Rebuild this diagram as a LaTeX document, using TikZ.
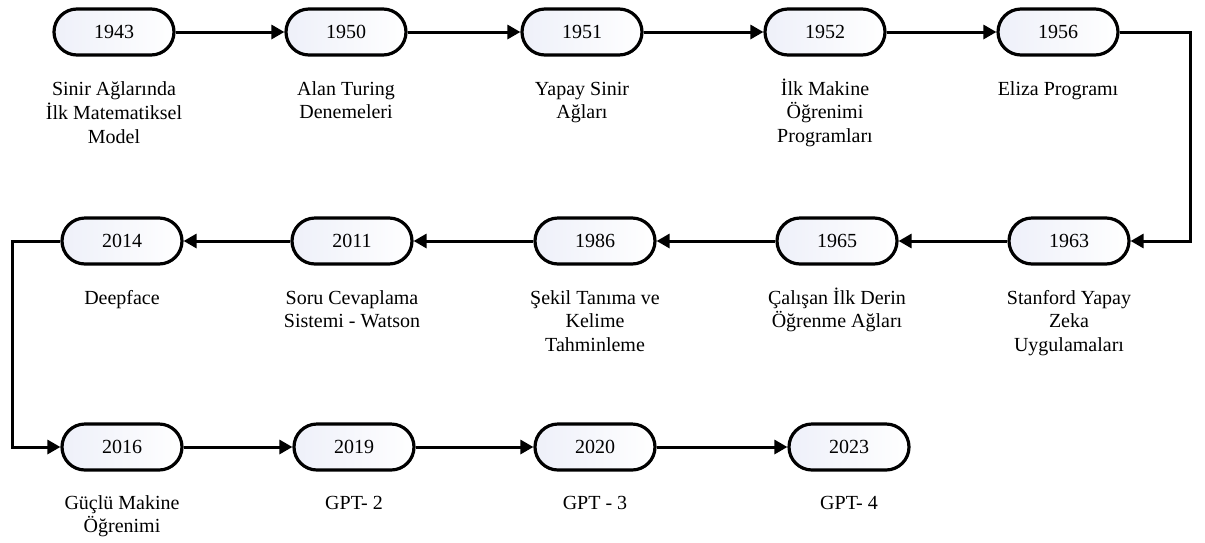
\documentclass[tikz,border=0pt]{standalone}
\usepackage{fontspec}
\setmainfont{Liberation Serif}
\usetikzlibrary{arrows.meta,shapes.misc}
\definecolor{yearfill}{RGB}{238,240,249}
\newcommand{\captext}{\fontsize{20}{23.5}\selectfont}
\begin{document}
\begin{tikzpicture}[x=1pt,y=-1pt,
  year/.style={rounded rectangle, draw=black, line width=3.2pt,
    minimum width=120pt, minimum height=46pt, inner sep=0pt,
    left color=yearfill, right color=white, font=\captext},
  caption/.style={anchor=north, align=center, inner sep=0pt, font=\captext},
  link/.style={line width=3pt, -{Triangle[length=13pt,width=14pt]}}]
\useasboundingbox (0,0) rectangle (1205,542);

% first row
\node[year] (n1943) at (114,32) {1943};
\node[year] (n1950) at (346,32) {1950};
\node[year] (n1951) at (582,32) {1951};
\node[year] (n1952) at (825,32) {1952};
\node[year] (n1956) at (1058,32) {1956};
% second row
\node[year] (n1963) at (1069,241) {1963};
\node[year] (n1965) at (837,241) {1965};
\node[year] (n1986) at (595,241) {1986};
\node[year] (n2011) at (352,241) {2011};
\node[year] (n2014) at (122,241) {2014};
% third row
\node[year] (n2016) at (122,447) {2016};
\node[year] (n2019) at (354,447) {2019};
\node[year] (n2020) at (595,447) {2020};
\node[year] (n2023) at (849,447) {2023};

% captions (each first line starts with a strut so all rows share one baseline)
\node[caption] (c1943) at (114,78.5) {\strut Sinir Ağlarında\\İlk Matematiksel\\Model};
\node[caption] (c1950) at (346,78.5) {\strut Alan Turing\\Denemeleri};
\node[caption] (c1951) at (582,78.5) {\strut Yapay Sinir\\Ağları};
\node[caption] (c1952) at (825,78.5) {\strut İlk Makine\\Öğrenimi\\Programları};
\node[caption] (c1956) at (1058,78.5) {\strut Eliza Programı};
\node[caption] (c1963) at (1069,287.5) {\strut Stanford Yapay\\Zeka\\Uygulamaları};
\node[caption] (c1965) at (837,287.5) {\strut Çalışan İlk Derin\\Öğrenme Ağları};
\node[caption] (c1986) at (595,287.5) {\strut Şekil Tanıma ve\\Kelime\\Tahminleme};
\node[caption] (c2011) at (352,287.5) {\strut Soru Cevaplama\\Sistemi - Watson};
\node[caption] (c2014) at (122,287.5) {\strut Deepface};
\node[caption] (c2016) at (122,492.5) {\strut Güçlü Makine\\Öğrenimi};
\node[caption] (c2019) at (354,492.5) {\strut GPT- 2};
\node[caption] (c2020) at (595,492.5) {\strut GPT - 3};
\node[caption] (c2023) at (849,492.5) {\strut GPT- 4};

% turning points of the snake
\coordinate (turnR) at (1190,32);
\coordinate (turnL) at (12,241);

% connectors
\draw[link] (n1943.east) -- (n1950.west);
\draw[link] (n1950.east) -- (n1951.west);
\draw[link] (n1951.east) -- (n1952.west);
\draw[link] (n1952.east) -- (n1956.west);
\draw[link] (n1956.east) -- (turnR) |- (n1963.east);
\draw[link] (n1963.west) -- (n1965.east);
\draw[link] (n1965.west) -- (n1986.east);
\draw[link] (n1986.west) -- (n2011.east);
\draw[link] (n2011.west) -- (n2014.east);
\draw[link] (n2014.west) -- (turnL) |- (n2016.west);
\draw[link] (n2016.east) -- (n2019.west);
\draw[link] (n2019.east) -- (n2020.west);
\draw[link] (n2020.east) -- (n2023.west);
\end{tikzpicture}
\end{document}
